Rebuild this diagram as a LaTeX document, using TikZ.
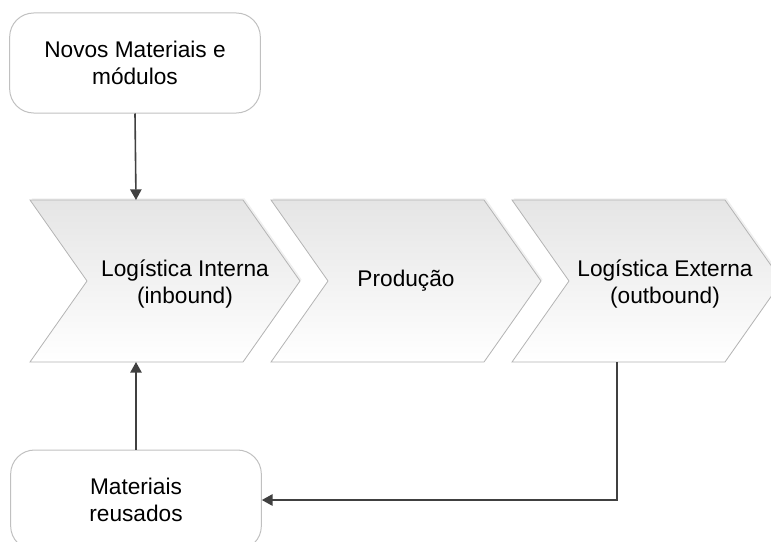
\documentclass[tikz,border=0pt]{standalone}
\usepackage{fontspec}
\setmainfont{Liberation Sans}
\usetikzlibrary{arrows.meta,shadows}
\definecolor{boxgray}{RGB}{192,192,192}
\definecolor{chevgray}{RGB}{180,180,180}
\definecolor{chevtop}{RGB}{229,229,229}
\definecolor{flowgray}{RGB}{64,64,64}

\begin{document}
\begin{tikzpicture}[x=0.75pt,y=0.75pt,yscale=-1,xscale=1,
  roundbox/.style={draw=boxgray, line width=0.75, rounded corners=18, minimum width=188pt, minimum height=75pt, align=center, inner sep=0.75pt, font=\fontsize{17}{20}\selectfont},
  chevron/.style={draw=chevgray, line width=0.6, top color=chevtop, bottom color=white, drop shadow={shadow xshift=1.2pt, shadow yshift=1.2pt, opacity=0.12}},
  chevtext/.style={align=center, inner sep=0.75pt, font=\fontsize{17}{20}\selectfont},
  flow/.style={draw=flowgray, line width=1.2, -{Triangle[length=8pt,width=8.5pt]}}]
\useasboundingbox (0,0) rectangle (771,542);
\clip (0,0) rectangle (771,542);

%Shape: Chevron [inbound]
\draw [chevron] (30,200) -- (243,200) -- (300,281) -- (243,362) -- (30,362) -- (87,281) -- cycle ;
%Shape: Chevron [producao]
\draw [chevron] (271,200) -- (484,200) -- (541,281) -- (484,362) -- (271,362) -- (328,281) -- cycle ;
%Shape: Chevron [outbound]
\draw [chevron] (512,200) -- (725,200) -- (782,281) -- (725,362) -- (512,362) -- (569,281) -- cycle ;

%Shape: Rounded Rect [id:novos]
\node [roundbox] (novos) at (135,63) {Novos Materiais e\\módulos};
%Shape: Rounded Rect [id:reusados]
\node [roundbox] (reusados) at (136,500) {Materiais\\reusados};

% Text Node
\node [chevtext] (inbound) at (185,284) {Logística Interna\\(inbound)};
% Text Node
\node [chevtext] (producao) at (406,281) {Produção};
% Text Node
\node [chevtext] (outbound) at (665,284) {Logística Externa\\(outbound)};

%Straight Lines [ends on the chevrons]
\coordinate (inTop) at (136,200);
\coordinate (inBot) at (136,362);
\coordinate (outBot) at (617,362);
\draw [flow] (novos.south) -- (inTop);
\draw [flow] (reusados.north) -- (inBot);
\draw [flow] (outBot) |- (reusados.east);
\end{tikzpicture}
\end{document}
